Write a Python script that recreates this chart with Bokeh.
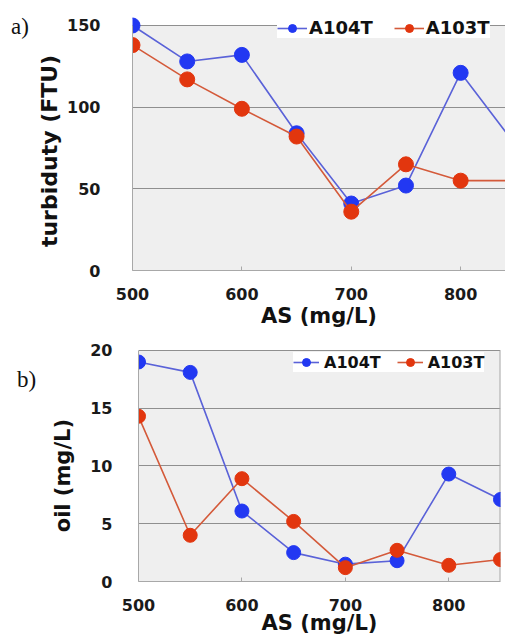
from bokeh.plotting import figure
from bokeh.layouts import column, row
from bokeh.models import Legend, LegendItem, FixedTicker, Range1d, Div, BoxAnnotation
from bokeh.embed import file_html
from bokeh.resources import INLINE

# ---- data ----
as_dose = [500, 550, 600, 650, 700, 750, 800, 850]
turb_A104T = [150, 128, 132, 84, 41, 52, 121, 77]
turb_A103T = [138, 117, 99, 82, 36, 65, 55, 55]
oil_A104T = [19.0, 18.1, 6.1, 2.5, 1.5, 1.8, 9.3, 7.1]
oil_A103T = [14.3, 4.0, 8.9, 5.2, 1.2, 2.7, 1.4, 1.9]
x_ticks = [500, 600, 700, 800]
turb_ticks = [0, 50, 100, 150]
oil_ticks = [0, 5, 10, 15, 20]
series_names = ["A104T", "A103T"]

BLUE_M = "#2238f2"
BLUE_L = "#5a62d8"
RED_M = "#e2360e"
RED_L = "#d45a3a"
FONT = "DejaVu Sans"
BG = "#efefef"
GRID = "#8f8f8f"
AXIS = "#a8a8a8"
NB = "\u00a0"


def make_fig(width, height, x_end, y_top, yticks, ylabel, mb_left, mb_right, mb_top,
             mb_bottom, ylab_standoff, ytitle_standoff, xlab_standoff, xtitle_standoff):
    p = figure(width=width, height=height, output_backend="svg",
               toolbar_location=None,
               x_range=Range1d(500, x_end), y_range=Range1d(0, y_top),
               min_border_left=mb_left, min_border_right=mb_right,
               min_border_top=mb_top, min_border_bottom=mb_bottom)
    p.background_fill_color = "white"
    p.border_fill_color = "white"
    p.outline_line_color = None
    # grey plotting area, limited to the tick range
    p.add_layout(BoxAnnotation(bottom=yticks[0], top=yticks[-1], fill_color=BG,
                               fill_alpha=1.0, line_color=None, level="image"))
    p.xgrid.grid_line_color = None
    p.ygrid.grid_line_color = GRID
    p.ygrid.grid_line_width = 1
    p.xaxis.ticker = FixedTicker(ticks=x_ticks)
    p.yaxis.ticker = FixedTicker(ticks=yticks)
    p.yaxis.bounds = (yticks[0], yticks[-1])
    for ax in (p.xaxis, p.yaxis):
        ax.axis_line_color = AXIS
        ax.major_label_text_font = FONT
        ax.major_label_text_font_style = "bold"
        ax.major_label_text_font_size = "16px"
        ax.major_label_text_color = "#1a1a1a"
        ax.axis_label_text_font = FONT
        ax.axis_label_text_font_style = "bold"
        ax.axis_label_text_font_size = "21px"
        ax.axis_label_text_color = "#111111"
        ax.minor_tick_line_color = None
    p.xaxis.major_tick_in = 4
    p.xaxis.major_tick_out = 0
    p.xaxis.major_tick_line_color = AXIS
    p.yaxis.major_tick_line_color = None
    p.xaxis.axis_label = "AS (mg/L)"
    p.yaxis.axis_label = ylabel
    p.yaxis.major_label_standoff = ylab_standoff
    p.yaxis.axis_label_standoff = ytitle_standoff
    p.xaxis.major_label_standoff = xlab_standoff
    p.xaxis.axis_label_standoff = xtitle_standoff
    return p


def add_series(p, ys_blue, ys_red, msize, legend_loc, legend_font, legend_pad, spacing,
               gw, standoff):
    lb = p.line(as_dose, ys_blue, line_color=BLUE_L, line_width=1.6)
    sb = p.scatter(as_dose, ys_blue, size=msize, fill_color=BLUE_M, line_color=BLUE_M)
    lr = p.line(as_dose, ys_red, line_color=RED_L, line_width=1.6)
    sr = p.scatter(as_dose, ys_red, size=msize, fill_color=RED_M, line_color=RED_M)
    leg = Legend(items=[LegendItem(label=series_names[0], renderers=[lb, sb]),
                        LegendItem(label=series_names[1], renderers=[lr, sr])],
                 location=legend_loc, orientation="horizontal")
    leg.label_text_font = FONT
    leg.label_text_font_style = "bold"
    leg.label_text_font_size = legend_font
    leg.label_text_color = "#111111"
    leg.glyph_width = gw
    leg.label_standoff = standoff
    leg.spacing = spacing
    leg.padding = legend_pad
    leg.margin = 0
    leg.border_line_color = None
    leg.background_fill_color = "white"
    leg.background_fill_alpha = 1.0
    p.add_layout(leg, "center")


def side_div(text, width, height, pad_left, pad_top):
    return Div(text=text, width=width, height=height, margin=0,
               styles={"font-family": "Liberation Serif", "font-size": "23px",
                       "line-height": "23px", "color": "#111111",
                       "padding-left": f"{pad_left}px", "padding-top": f"{pad_top}px",
                       "background": "white", "box-sizing": "border-box",
                       "white-space": "nowrap"})


SIDE_A = 34
SIDE_B = 42

# panel a  (page: frame left 132, value 150 at y 25, 0 at y 270)
pa = make_fig(505 - SIDE_A, 335, 841, 160.4, turb_ticks, "turbiduty (FTU)" + NB * 3,
              132 - SIDE_A, 0, 8, 65, 26, 2, 17, 1)
pa.yaxis.axis_label_text_font_size = "22px"
add_series(pa, turb_A104T, turb_A103T, 15, (145, 232), "18px", 10, 21, 30, 2)

# panel b  (page: frame left 138, value 20 at y 350, 0 at y 583)
pb = make_fig(505 - SIDE_B, 302, 850, 20.86, oil_ticks, "oil (mg/L)" + NB * 4,
              138 - SIDE_B, 5, 5, 54, 20, 12, 17, -3)
pb.segment(x0=[as_dose[-1]], y0=[oil_ticks[0]], x1=[as_dose[-1]], y1=[oil_ticks[-1]],
           line_color=AXIS, line_width=2)
add_series(pb, oil_A104T, oil_A103T, 14, (155, 209), "16px", 8, 16, 26, 5)

div_a = side_div("a)", SIDE_A, 335, 11, 15)
div_b = side_div("b)", SIDE_B, 302, 17, 33)

layout = column(row(div_a, pa, spacing=0), row(div_b, pb, spacing=0), spacing=0)
open("out.html", "w").write(file_html(layout, INLINE))
